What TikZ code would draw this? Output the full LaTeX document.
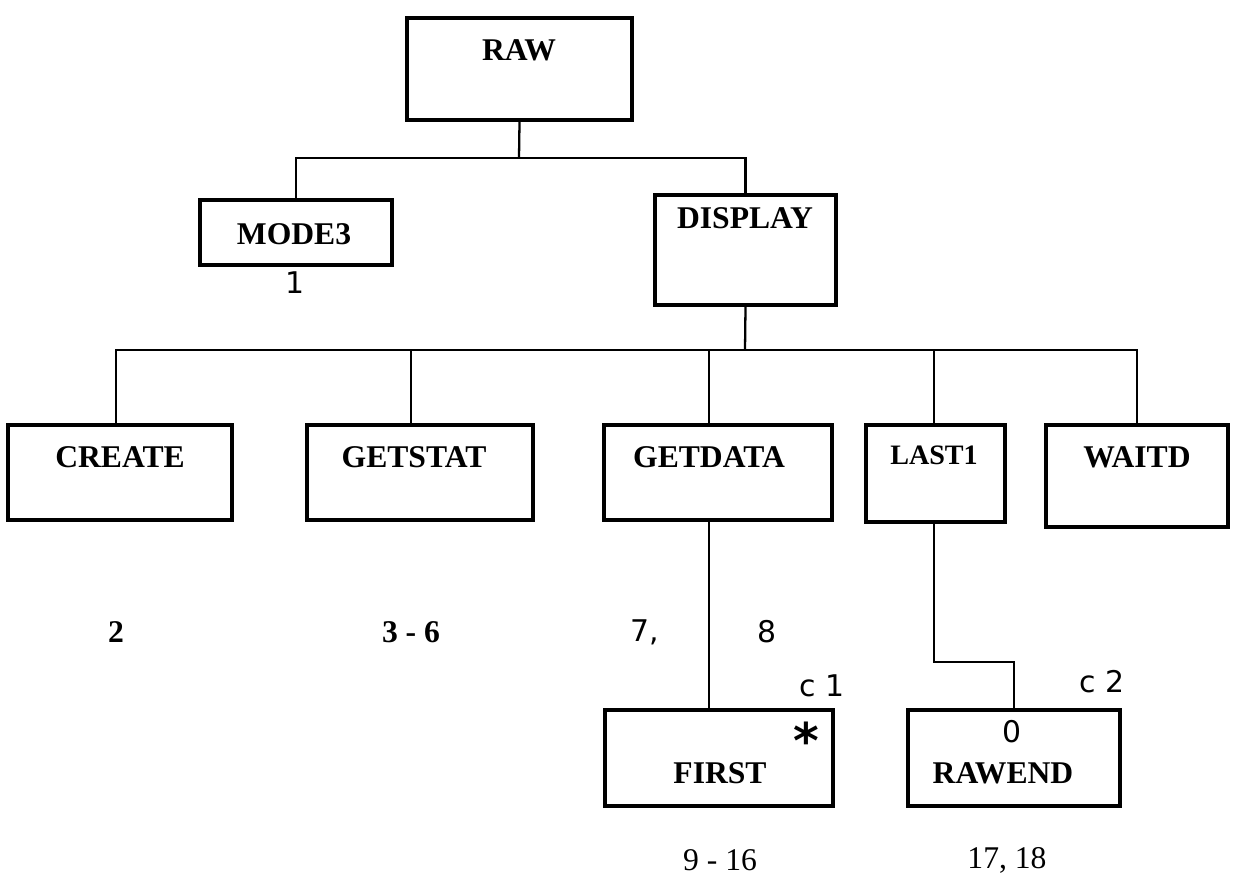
\documentclass[tikz,border=0pt]{standalone}
\usepackage{fontspec}
\setmainfont{Liberation Serif}
\newfontfamily\handfont{DejaVu Sans}
\begin{document}
\begin{tikzpicture}[x=0.02cm, y=-0.02cm,
  box/.style={draw, line width=2.3pt, rectangle, inner sep=0pt},
  conn/.style={draw, line width=1.3pt},
  sub/.style={draw, line width=1.1pt},
  boxtitle/.style={font=\fontsize{18}{21}\bfseries\selectfont, inner sep=0pt},
  num/.style={font=\fontsize{18}{21}\bfseries\selectfont, inner sep=0pt},
  numr/.style={font=\fontsize{18}{21}\selectfont, inner sep=0pt},
  hand/.style={font=\handfont\fontsize{17}{20}\selectfont, inner sep=0pt}]
\path[use as bounding box, fill=white] (0,0) rectangle (1236,879);

% boxes
\node[box, minimum width=4.5cm,  minimum height=2.04cm] (raw)     at (519.5,69) {};
\node[box, minimum width=3.84cm, minimum height=1.3cm]  (mode3)   at (296,232.5) {};
\node[box, minimum width=3.62cm, minimum height=2.2cm]  (display) at (745.5,250) {};
\node[box, minimum width=4.48cm, minimum height=1.9cm]  (create)  at (120,472.5) {};
\node[box, minimum width=4.52cm, minimum height=1.9cm]  (getstat) at (420,472.5) {};
\node[box, minimum width=4.56cm, minimum height=1.9cm]  (getdata) at (718,472.5) {};
\node[box, minimum width=2.78cm, minimum height=1.94cm] (last1)   at (935.5,473.5) {};
\node[box, minimum width=3.64cm, minimum height=2.04cm] (waitd)   at (1137,476) {};
\node[box, minimum width=4.56cm, minimum height=1.92cm] (first)   at (719,758) {};
\node[box, minimum width=4.24cm, minimum height=1.92cm] (rawend)  at (1014,758) {};

% box titles
\node[boxtitle] (rawT)     at (519,50)  {RAW};
\node[boxtitle] (mode3T)   at (294,234) {MODE3};
\node[boxtitle] (displayT) at (745,218) {DISPLAY};
\node[boxtitle] (createT)  at (120,457) {CREATE};
\node[boxtitle] (getstatT) at (414,457) {GETSTAT};
\node[boxtitle] (getdataT) at (709,457) {GETDATA};
\node[boxtitle, font=\fontsize{16}{19}\bfseries\selectfont] (last1T) at (934,455) {LAST1};
\node[boxtitle] (waitdT)   at (1137,457) {WAITD};
\node[boxtitle] (firstT)   at (720,773) {FIRST};
\node[boxtitle] (rawendT)  at (1003,773) {RAWEND};

% tree connectors
\coordinate (bus1) at (519,158);
\coordinate (bus2) at (745,350);
\coordinate (bend) at (934,662);
\draw[conn] (raw.south) -- (bus1);
\draw[conn] (mode3.north) -- (mode3.north |- bus1) -- (display.north |- bus1) -- (display.north);
\draw[conn] (display.south) -- (bus2);
\draw[conn] ([xshift=-0.08cm]create.north) |- (waitd.north |- bus2) -- (waitd.north);
\draw[conn] ([xshift=-0.18cm]getstat.north) -- ([xshift=-0.18cm]getstat.north |- bus2);
\draw[conn] ([xshift=-0.18cm]getdata.north) -- ([xshift=-0.18cm]getdata.north |- bus2);
\draw[conn] ([xshift=-0.03cm]last1.north) -- ([xshift=-0.03cm]last1.north |- bus2);
\draw[sub] ([xshift=-0.18cm]getdata.south) -- ([xshift=-0.18cm]getdata.south |- first.north);
\draw[sub] ([xshift=-0.03cm]last1.south) -- (bend) -| (rawend.north);

% page numbers
\node[num]  (n2)   at (116,632)  {2};
\node[num]  (n36)  at (411,632)  {3 - 6};
\node[numr] (n916) at (720,860)  {9 - 16};
\node[numr] (n1718) at (1007,860) {17, 18};

% handwritten notes
\node[hand] (h1)  at (295,283) {1};
\node[hand] (h7)  at (645,632) {7,};
\node[hand] (h8)  at (767,632) {8};
\node[hand] (hc1) at (822,686) {c 1};
\node[hand, font=\handfont\bfseries\fontsize{28}{30}\selectfont] (hst) at (806,740) {*};
\node[hand] (hc2) at (1102,682) {c 2};
\node[hand] (h0)  at (1012,732) {0};
\end{tikzpicture}
\end{document}
